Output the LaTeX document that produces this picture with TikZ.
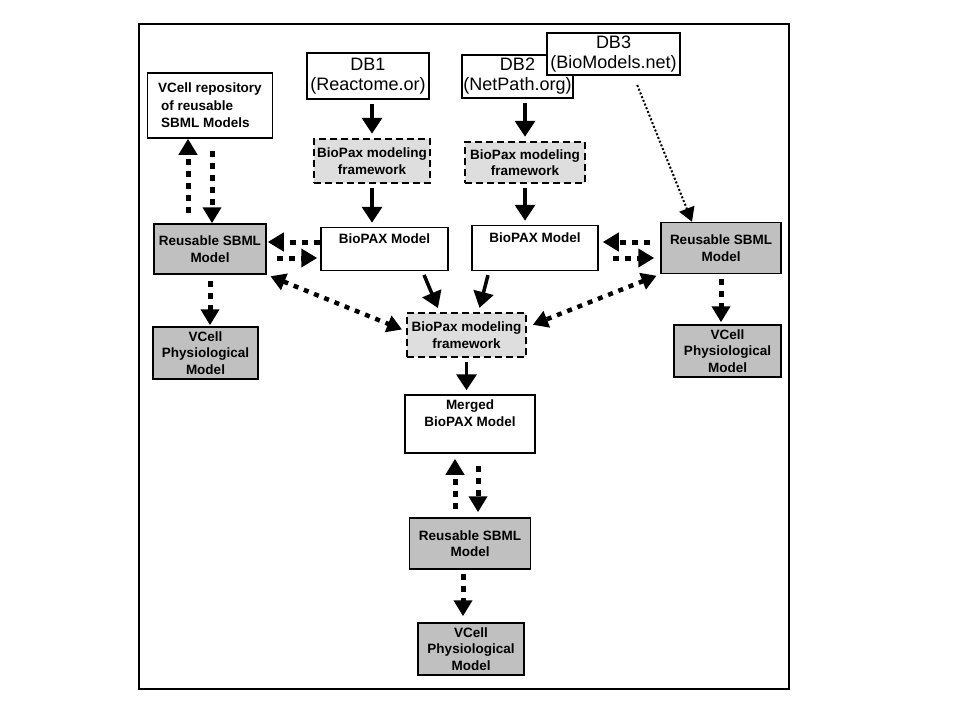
\documentclass[tikz,border=0pt]{standalone}
\usepackage{fontspec}
\setmainfont{Liberation Sans}
\usetikzlibrary{arrows.meta}
\definecolor{sbmlgray}{RGB}{192,192,192}
\definecolor{fwgray}{RGB}{222,222,222}
\tikzset{
	box/.style={draw, line width=1.5pt, fill=white, inner sep=0pt, align=center, font=\bfseries\fontsize{13.5}{16.5}\selectfont},
	dbbox/.style={box, font=\fontsize{18}{20}\selectfont},
	sbmlbox/.style={box, fill=sbmlgray},
	fwbox/.style={box, fill=fwgray, line width=2.5pt, dash pattern=on 7pt off 4pt},
	solidarrow/.style={line width=3.5pt, -{Triangle[length=16pt,width=20pt]}, shorten <=4pt, shorten >=4pt},
	dotarrow/.style={line width=5pt, dash pattern=on 6pt off 6pt, -{Triangle[length=16pt,width=18pt]}},
	dotboth/.style={line width=4.5pt, dash pattern=on 5pt off 6pt, {Triangle[length=15pt,width=17pt]}-{Triangle[length=15pt,width=17pt]}},
	thinarrow/.style={line width=2pt, dash pattern=on 2pt off 2pt, -{Triangle[length=14pt,width=16pt]}}
}
\begin{document}
\begin{tikzpicture}[x=1pt, y=-1pt]
\useasboundingbox (0,0) rectangle (960,720);
%frame
\draw[line width=2pt] (139,24) rectangle (789,689);
%databases
\node[dbbox, minimum width=122pt, minimum height=46pt] (db1) at (368,76) {DB1\\(Reactome.or)};
\node[dbbox, minimum width=111pt, minimum height=43pt] (db2) at (517.5,76.5) {DB2\\(NetPath.org)};
\node[dbbox, minimum width=133pt, minimum height=42pt] (db3) at (613.5,54) {DB3\\(BioModels.net)};
%repository
\node[box, align=left, font=\bfseries\fontsize{13.5}{17.5}\selectfont, minimum width=125pt, minimum height=65pt] (repo) at (210,105.5)
	{VCell repository\\\hspace*{3pt}of reusable\\\hspace*{3pt}SBML Models};
%modeling frameworks
\node[fwbox, minimum width=116pt, minimum height=44pt] (fw1) at (372,161) {BioPax modeling\\framework};
\node[fwbox, minimum width=120pt, minimum height=41pt] (fw2) at (525,162.5) {BioPax modeling\\framework};
\node[fwbox, minimum width=119pt, minimum height=44pt] (fwC) at (466.5,335) {BioPax modeling\\framework};
%models
\node[sbmlbox, minimum width=112pt, minimum height=50pt] (sbmlL) at (210,249) {Reusable SBML\\Model};
\node[box, minimum width=127pt, minimum height=43pt] (bpL) at (384.5,249) {BioPAX Model\\\strut};
\node[box, minimum width=126pt, minimum height=45pt] (bpR) at (535,248) {BioPAX Model\\\strut};
\node[sbmlbox, minimum width=120pt, minimum height=51pt] (sbmlR) at (721,248) {Reusable SBML\\Model};
\node[sbmlbox, minimum width=105pt, minimum height=52pt] (vcL) at (205.5,353) {VCell\\Physiological\\Model};
\node[sbmlbox, minimum width=107pt, minimum height=52pt] (vcR) at (727.5,351) {VCell\\Physiological\\Model};
\node[box, minimum width=130pt, minimum height=58pt] (merged) at (470,424) {Merged\\BioPAX Model\\\strut};
\node[sbmlbox, minimum width=121pt, minimum height=51pt] (sbmlB) at (470,543.5) {Reusable SBML\\Model};
\node[sbmlbox, minimum width=106pt, minimum height=52pt] (vcB) at (471,649) {VCell\\Physiological\\Model};
%solid arrows
\draw[solidarrow] (db1.south -| fw1.north) -- (fw1.north);
\draw[solidarrow] (fw1.south) -- (fw1.south |- bpL.north);
\draw[solidarrow] (db2.south -| fw2.north) -- (fw2.north);
\draw[solidarrow] (fw2.south) -- (fw2.south |- bpR.north);
\draw[solidarrow] ([xshift=38pt]bpL.south) -- ([xshift=-27pt]fwC.north);
\draw[solidarrow] ([xshift=-46pt]bpR.south) -- ([xshift=12pt]fwC.north);
\draw[solidarrow] (fwC.south) -- (fwC.south |- merged.north);
%dotted arrows
\draw[dotarrow, shorten <=10pt] ([xshift=-22pt]sbmlL.north) -- ([xshift=-22pt]repo.south);
\draw[dotarrow, shorten <=12pt] ([xshift=2pt]repo.south) -- ([xshift=2pt]sbmlL.north);
\draw[dotarrow, shorten >=1pt] ([yshift=7pt]bpL.west) -- ([yshift=7pt]sbmlL.east);
\draw[dotarrow, shorten <=10pt, shorten >=3pt] ([yshift=-9pt]sbmlL.east) -- ([yshift=-9pt]bpL.west);
\draw[dotarrow, shorten <=10pt, shorten >=4pt] ([yshift=6pt]sbmlR.west) -- ([yshift=6pt]bpR.east);
\draw[dotarrow, shorten <=14pt, shorten >=6pt] ([yshift=-10pt]bpR.east) -- ([yshift=-10pt]sbmlR.west);
\draw[dotarrow, shorten <=6pt, shorten >=1pt] (sbmlL.south) -- (sbmlL.south |- vcL.north);
\draw[dotarrow, shorten <=5pt, shorten >=2pt] (sbmlR.south) -- (sbmlR.south |- vcR.north);
\draw[dotarrow, shorten <=8pt, shorten >=5pt] ([xshift=-15pt]sbmlB.north) -- ([xshift=-15pt]merged.south);
\draw[dotarrow, shorten <=12pt, shorten >=5pt] ([xshift=8pt]merged.south) -- ([xshift=8pt]sbmlB.north);
\draw[dotarrow, shorten <=4pt, shorten >=6pt] ([xshift=-7pt]sbmlB.south) -- ([xshift=-7pt]sbmlB.south |- vcB.north);
\draw[dotboth, shorten <=4pt, shorten >=4pt] (sbmlL.south east) -- ([yshift=4pt]fwC.west);
\draw[dotboth, shorten <=4pt, shorten >=6pt] (sbmlR.south west) -- ([yshift=8pt]fwC.east);
\draw[thinarrow, shorten <=10pt] ([xshift=20pt]db3.south) -- ([xshift=-29pt]sbmlR.north);
\end{tikzpicture}
\end{document}
